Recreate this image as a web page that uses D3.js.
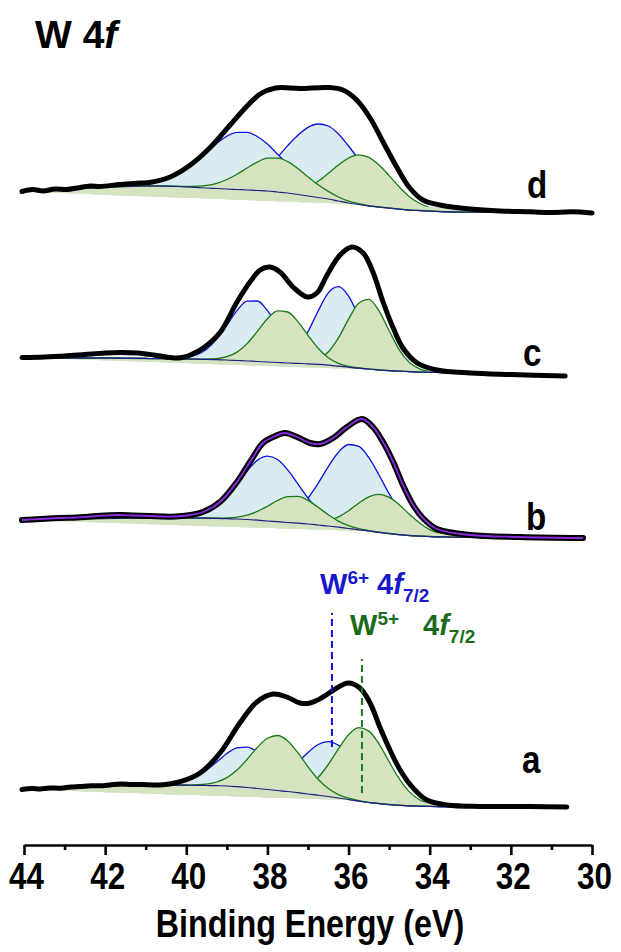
<!DOCTYPE html>
<html>
<head>
<meta charset="utf-8">
<script src="https://cdn.jsdelivr.net/npm/d3@7"></script>
<style>
  body { margin: 0; background: #fff; }
  svg { display: block; }
  text { font-family: "Liberation Sans", Arial, sans-serif; font-weight: bold; }
</style>
</head>
<body>
<div id="chart"></div>
<script>
// energy grid of the fitted background (eV)
var bgGrid = [44.1, 43.5, 43, 42.5, 42, 41.5,
	41, 40.75, 40.5, 40.25, 40, 39.75, 39.5, 39.25, 39, 38.75, 38.5, 38.25, 38, 37.75, 37.5, 37.25, 37,
	36.75, 36.5, 36.25, 36, 35.75, 35.5, 35.25, 35, 34.75, 34.5, 34.25, 34, 33.75, 33.5, 33.25, 33,
	32.5, 32, 31.5, 31, 30.5, 30];
var peakStart = 6; // peak arrays start at 41 eV on bgGrid

var sampleNames = ["a", "b", "c", "d"];
var sampleOffsets = [38, 307, 469, 632];
var xTicks = [44, 42, 40, 38, 36, 34, 32, 30];
var xMinorTicks = [43, 41, 39, 37, 35, 33, 31];

// measured spectra [BE, counts]
var envA = [[44.05,17.5],[43.8,18.5],[43.6,18],[43.37,19],[43.1,18.8],[42.85,20],[42.62,20.5],[42.35,21.3],[42.1,21.2],[41.85,22.3],[41.63,23],[41.35,22.6],[41.1,22.5],[40.65,22],[40.15,25.3],[39.66,34],[39.17,54],[38.68,84],[38.26,105],[37.86,113],[37.52,110],[37.2,104],[36.95,104],[36.63,110],[36.29,119],[36.01,124],[35.72,119],[35.47,104],[35.23,80],[34.98,57],[34.73,37],[34.41,19],[34.07,7],[33.57,2],[32.76,0.5],[31.5,0.5],[30.62,0]];
var envB = [[44.05,18],[43.6,19],[43.11,20],[42.7,20.5],[42.37,21.5],[42,22.5],[41.63,23],[41.3,22.5],[40.9,22],[40.6,21.5],[40.4,21.3],[40.1,22],[39.9,23],[39.59,26],[39.17,36],[38.75,56],[38.43,76],[38.11,95],[37.86,101],[37.57,105],[37.27,101],[36.95,95],[36.7,94],[36.38,100],[36.04,111],[35.67,119],[35.4,111],[35.15,96],[34.9,76],[34.66,53],[34.41,33],[34.17,20],[33.82,9],[33,3],[31.77,1],[30.22,0]];
var envC = [[44.05,18.5],[43.5,19],[43,20],[42.5,21.5],[42,23],[41.6,23.5],[41.2,23],[40.8,21],[40.5,19],[40.28,18],[40.1,18.5],[39.9,21],[39.58,28],[39.16,44],[38.75,74],[38.43,94],[38.18,106],[37.94,109],[37.69,104],[37.37,89],[37.02,79],[36.78,83],[36.53,101],[36.21,121],[35.92,129],[35.64,123],[35.4,104],[35.15,74],[34.9,48],[34.66,28],[34.31,13],[33.82,6],[33,3],[32,1.5],[30.66,0]];
var envD = [[44.05,21.5],[43.78,23.5],[43.53,22],[43.24,24],[42.94,23.5],[42.69,25],[42.37,27],[42.13,26.5],[41.63,28.5],[41.14,30],[40.9,30.5],[40.4,36],[39.9,48],[39.4,66],[38.92,88],[38.5,107],[38.18,119],[37.8,125],[37.2,124.5],[36.5,125.5],[36.14,123],[35.8,113],[35.47,95],[35.15,71],[34.8,45],[34.49,25],[34.17,13],[33.75,8],[33,4],[32.27,2],[31.5,1.2],[31.03,0.5],[30.5,1.2],[30,0]];

// Shirley backgrounds on bgGrid
var bgA = [18,19,20,20.5,21,21.5,22,22,22,21.9,21.8,21.7,21.5,21.3,21,20.3,19.5,18.5,17.5,16.5,15.5,14.3,13,11.8,10.5,9,7.5,6,4.5,3.5,2.5,1.8,1.2,0.9,0.6,0.4,0.3,0.2,0.2,0.1,0.1,0,0,0,0];
var bgB = [18,18.5,19,19.3,19.5,19.8,20,20,20,20,20,19.9,19.8,19.6,19.3,19,18.5,17.8,17,16.3,15.5,14.8,14,13,12,10.8,9.5,8.2,7,5.7,4.5,3.4,2.5,2,1.5,1.2,1,0.8,0.7,0.5,0.3,0.2,0.1,0,0];
var bgC = [18.5,18.3,18,17.9,17.8,17.7,17.5,17.4,17.2,17.1,17,16.8,16.6,16.3,16,15.5,15,14.5,14,13.5,13,12.6,12.2,11.6,10.8,9.8,8.8,7.8,7,6,5.3,4.8,4.4,4,3.7,3.5,3.3,3.1,3,2.5,2,1.5,1,0.5,0];
var bgD = [22,23,24,25,25.8,26.5,27,27,26.8,26.5,26,25.6,25,24.5,24,23.5,23,22.5,22,21,20,18.5,17,15.5,14,12,10,8.5,7,6,5,4,3,2.5,2,1.5,1.2,1,1,0.8,0.6,0.4,0.3,0.1,0];

// fitted components above background, 41 -> 33 eV step 0.25
var w6f52A = [0.1,0.2,0.7,1.8,4.2,8.5,15.3,23.8,32.5,38.8,40.4,36.7,29.2,20.3,12.3,6.5,3,1.2,0.4,0.1,0,0,0,0,0,0,0,0,0,0,0,0,0];
var w6f72A = [0,0,0,0,0,0,0,0,0.1,0.4,1,2.5,5.6,11.1,19.4,30.2,41.5,50.7,54.9,52.7,44.9,33.9,22.7,13.5,7.1,3.3,1.4,0.5,0.2,0,0,0,0];
var w5f52A = [0,0,0,0,0.1,0.5,1.4,3.7,8.4,16.6,28.2,41,51.3,55,50.6,40,27.2,15.9,7.9,3.4,1.3,0.4,0.1,0,0,0,0,0,0,0,0,0,0];
var w5f72A = [0,0,0,0,0,0,0,0,0,0,0,0,0,0.3,1.2,3.5,8.5,17.8,32,49.1,64.8,73.4,71.4,59.7,42.8,26.3,13.9,6.3,2.5,0.8,0.2,0,0];

var w6f52B = [0,0,0.1,0.3,1,2.6,6.1,12.3,22,34.8,48.6,59.8,64.9,62.2,52.6,39.3,25.9,15,7.7,3.5,1.4,0.5,0.1,0,0,0,0,0,0,0,0,0,0];
var w6f72B = [0,0,0,0,0,0,0,0,0,0,0.1,0.4,1.2,3.1,7,14.4,26,41.7,59.4,75,84,83.4,73.4,57.3,39.7,24.4,13.3,6.4,2.8,1,0.4,0.1,0];
var w5f52B = [0,0,0,0,0,0,0,0.2,0.7,1.9,4.4,8.8,14.8,21.2,25.9,26.8,23.6,17.7,11.3,6.1,2.8,1.1,0.4,0.1,0,0,0,0,0,0,0,0,0];
var w5f72B = [0,0,0,0,0,0,0,0,0,0,0,0,0,0,0,0.2,0.8,2.2,5.1,10.3,17.8,26.6,34.2,37.9,36.2,29.9,21.3,13.1,6.9,3.2,1.2,0.4,0.1];

var w6f52C = [0,0,0.2,0.5,1.5,4.2,10.2,20.5,34.8,49.8,59.8,60.5,51.4,36.7,22,11.1,4.7,1.7,0.5,0.1,0,0,0,0,0,0,0,0,0,0,0,0,0];
var w6f72C = [0,0,0,0,0,0,0,0,0,0,0,0.1,0.6,2,6.3,15.7,32.2,53.4,72.3,79.5,71.1,51.7,30.6,14.7,5.8,1.8,0.5,0.1,0,0,0,0,0];
var w5f52C = [0,0,0,0,0,0,0.3,1.1,3.3,8.4,17.4,30.1,43.3,51.6,51,41.8,28.5,16.1,7.5,2.9,0.9,0.2,0,0,0,0,0,0,0,0,0,0,0];
var w5f72C = [0,0,0,0,0,0,0,0,0,0,0,0,0,0,0,0.3,1.4,4.9,13.2,28.3,48.1,65,69.7,59.2,40,21.4,9.1,3.1,0.8,0.2,0,0,0];

var w6f52D = [1.9,3.8,6.9,11.6,18.2,26.5,36,45,52.8,57.2,57.7,54,47,37.8,28.4,19.8,12.8,7.7,4.3,2.2,1.1,0.5,0,0,0,0,0,0,0,0,0,0,0];
var w6f72D = [0,0,0,0,0,0.2,0.5,1.1,2.4,4.9,9,15.2,24,35,47.4,59.2,68.6,73.5,73,67,57,45,32.7,22,13.8,8,4.3,2.1,1,0.4,0.2,0,0];
var w5f52D = [0,0,0.1,0.3,0.5,1.2,2.6,5.2,9.5,15.3,22,28.4,32.8,33.9,31.4,26,19.2,12.8,7.6,4,1.9,0.8,0.3,0,0,0,0,0,0,0,0,0,0];
var w5f72D = [0,0,0,0,0,0,0,0,0,0,0,0.1,0.3,0.8,2,4.5,9.1,16.2,25.7,36,45,49.7,48.6,42,32.4,22,13.3,7.2,3.4,1.4,0.5,0.2,0];

// reference lines drawn over sample a: [BE, bottom, top] counts
var markerW6 = [36.41, 60, 194];
var markerW5 = [35.67, 14, 148];

var width = 621, height = 952;
var axisY = 845;
var narrow = 0.85; // horizontal squeeze for the condensed axis font

var xScale = d3.scaleLinear().domain([44, 30]).range([24, 592]);
var yScale = d3.scaleLinear().domain([0, axisY]).range([axisY, 0]);

var colors = {
	w6Fill: "#daecf2", w6Line: "#1010dd",
	w5Fill: "#d6e3c0", w5Line: "#187a18",
	bg: "#1e1e86", data: "#000", fit: "#8a2be2"
};

var spectra = [
	{ name: sampleNames[0], offset: sampleOffsets[0], env: envA, bg: bgA, w6: [w6f72A, w6f52A], w5: [w5f72A, w5f52A], label: [522, 773] },
	{ name: sampleNames[1], offset: sampleOffsets[1], env: envB, bg: bgB, w6: [w6f72B, w6f52B], w5: [w5f72B, w5f52B], label: [526, 530], fit: true },
	{ name: sampleNames[2], offset: sampleOffsets[2], env: envC, bg: bgC, w6: [w6f72C, w6f52C], w5: [w5f72C, w5f52C], label: [523, 366] },
	{ name: sampleNames[3], offset: sampleOffsets[3], env: envD, bg: bgD, w6: [w6f72D, w6f52D], w5: [w5f72D, w5f52D], label: [527, 198] }
];

var svg = d3.select("#chart").append("svg")
		.attr("width", width)
		.attr("height", height);
var defs = svg.append("defs");

spectra.forEach(function(s) {
	var g = svg.append("g").attr("class", "spectrum");
	var first = s.env[0], last = s.env[s.env.length - 1];

	defs.append("clipPath").attr("id", "clip-" + s.name)
		.append("rect")
			.attr("x", xScale(first[0]))
			.attr("y", 0)
			.attr("width", xScale(last[0]) - xScale(first[0]))
			.attr("height", axisY);
	var body = g.append("g").attr("clip-path", "url(#clip-" + s.name + ")");

	// straight line under the fill, from first to last point
	function chord(e) {
		return first[1] + (last[1] - first[1]) * (e - first[0]) / (last[0] - first[0]);
	}
	function component(peak) {
		return bgGrid.map(function(e, i) {
			var j = i - peakStart;
			var v = (j >= 0 && j < peak.length) ? peak[j] : 0;
			return [e, s.bg[i] + v];
		});
	}

	var area = d3.area()
			.x(function(d) { return xScale(d[0]); })
			.y0(function(d) { return yScale(s.offset + chord(d[0])); })
			.y1(function(d) { return yScale(s.offset + d[1]); })
			.curve(d3.curveMonotoneX);
	var line = d3.line()
			.x(function(d) { return xScale(d[0]); })
			.y(function(d) { return yScale(s.offset + d[1]); })
			.curve(d3.curveMonotoneX);
	var dataLine = d3.line()
			.x(function(d) { return xScale(d[0]); })
			.y(function(d) { return yScale(s.offset + d[1]); })
			.curve(d3.curveCatmullRom.alpha(0.5));

	// W6+ doublet, then W5+ doublet on top
	[[s.w6, colors.w6Fill, colors.w6Line], [s.w5, colors.w5Fill, colors.w5Line]].forEach(function(set) {
		set[0].forEach(function(peak) {
			var pts = component(peak);
			body.append("path").attr("d", area(pts))
					.style("fill", set[1]).style("stroke", "none");
			body.append("path").attr("d", line(pts))
					.style("fill", "none").style("stroke", set[2]).style("stroke-width", 1.3);
		});
	});

	body.append("path")
			.attr("d", line(bgGrid.map(function(e, i) { return [e, s.bg[i]]; })))
			.style("fill", "none").style("stroke", colors.bg).style("stroke-width", 1.2);

	g.append("path")
			.attr("d", dataLine(s.env))
			.style("fill", "none").style("stroke", colors.data)
			.style("stroke-width", s.fit ? 6 : 5)
			.style("stroke-linejoin", "round").style("stroke-linecap", "round");

	if (s.fit) {
		g.append("path")
				.attr("d", dataLine(s.env))
				.style("fill", "none").style("stroke", colors.fit).style("stroke-width", 1.8);
	}

	g.append("text")
			.attr("transform", "translate(" + s.label[0] + "," + s.label[1] + ") scale(" + narrow + ",1)")
			.style("font-size", "39px")
			.text(s.name);
});

// dashed markers on sample a
[[markerW6, colors.w6Line], [markerW5, "#1e7a1e"]].forEach(function(m) {
	svg.append("line")
			.attr("x1", xScale(m[0][0])).attr("x2", xScale(m[0][0]))
			.attr("y1", yScale(sampleOffsets[0] + m[0][1]))
			.attr("y2", yScale(sampleOffsets[0] + m[0][2]))
			.style("stroke", m[1]).style("stroke-width", 2)
			.style("stroke-dasharray", "7,4");
});

var w6Label = svg.append("text").attr("x", 320).attr("y", 594)
		.style("font-size", "29px").style("fill", "#1818cc");
w6Label.append("tspan").text("W");
w6Label.append("tspan").attr("dy", -10).style("font-size", "19px").text("6+");
w6Label.append("tspan").attr("dy", 10).text(" 4");
w6Label.append("tspan").style("font-style", "italic").text("f");
w6Label.append("tspan").attr("dy", 8).style("font-size", "19px").text("7/2");

var w5Label = svg.append("text").attr("x", 350).attr("y", 635)
		.style("font-size", "29px").style("fill", "#1c6b1c");
w5Label.append("tspan").text("W");
w5Label.append("tspan").attr("dy", -10).style("font-size", "19px").text("5+");
w5Label.append("tspan").attr("x", 423).attr("dy", 10).text("4");
w5Label.append("tspan").style("font-style", "italic").text("f");
w5Label.append("tspan").attr("dy", 8).style("font-size", "19px").text("7/2");

// title
var title = svg.append("text").attr("x", 35).attr("y", 48).style("font-size", "39px");
title.append("tspan").text("W 4");
title.append("tspan").style("font-style", "italic").text("f");

// x axis
var xAxis = d3.axisBottom(xScale).tickValues(xTicks).tickSize(10).tickSizeOuter(0).tickPadding(8);
var xMinor = d3.axisBottom(xScale).tickValues(xMinorTicks).tickSize(5).tickSizeOuter(0).tickFormat("");

var axisG = svg.append("g").attr("transform", "translate(0," + axisY + ")").call(xAxis);
svg.append("g").attr("transform", "translate(0," + axisY + ")").call(xMinor)
		.select(".domain").remove();

axisG.select(".domain").style("stroke-width", 2.6);
svg.selectAll(".tick line").style("stroke-width", 2.6);
axisG.selectAll(".tick text")
		.attr("transform", "translate(2,0) scale(" + narrow + ",1)")
		.style("font-family", "'Liberation Sans', Arial, sans-serif")
		.style("font-size", "37px").style("font-weight", "bold").style("fill", "#000");

svg.append("text")
		.attr("transform", "translate(310,937) scale(" + narrow + ",1)")
		.attr("text-anchor", "middle")
		.style("font-size", "38px")
		.text("Binding Energy (eV)");
</script>
</body>
</html>
